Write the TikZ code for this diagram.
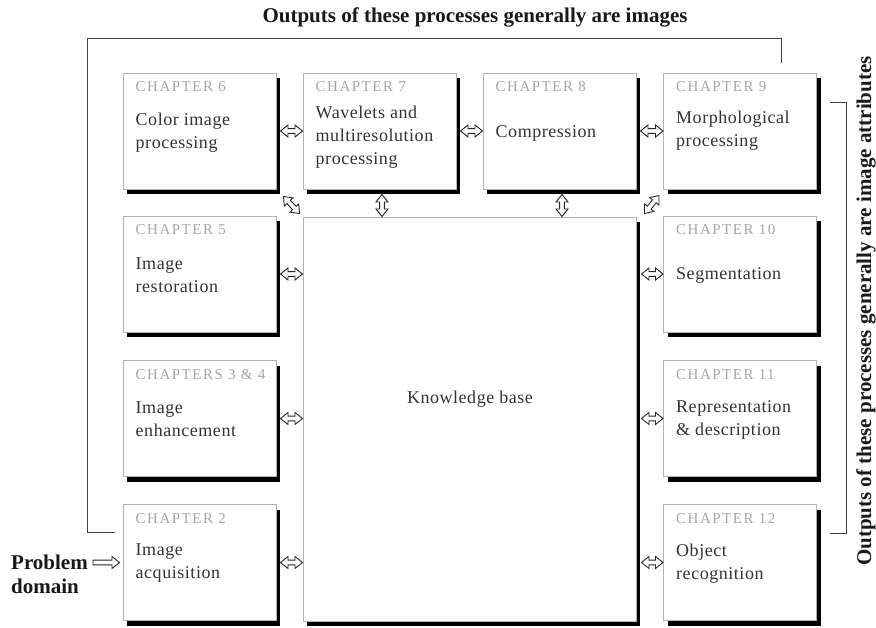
\documentclass[tikz,border=0pt]{standalone}
\usepackage{fontspec}
\setmainfont{Liberation Serif}
\newfontfamily\labfont[LetterSpace=10]{Liberation Serif}
\newfontfamily\bodyfont[LetterSpace=3]{Liberation Serif}
\usetikzlibrary{shadows,calc}
\def\ahl{7.5pt}
\def\ahw{6pt}
\def\asw{2.4pt}
\begin{document}
\begin{tikzpicture}[x=1pt,y=-1pt,
  chbox/.style={draw=gray!60, line width=1pt, fill=white, minimum width=153pt, minimum height=116pt, inner sep=0pt,
    drop shadow={shadow xshift=4pt, shadow yshift=-5pt, fill=black, opacity=1}},
  kbbox/.style={chbox, minimum width=333pt, minimum height=404pt},
  labtext/.style={anchor=north west, inner sep=0pt, text=gray!70, font=\labfont\fontsize{15}{17}\selectfont},
  bodytext/.style={anchor=west, inner sep=0pt, text=black!80, align=left, font=\bodyfont\fontsize{18}{23}\selectfont},
  bigtext/.style={font=\bfseries\fontsize{21}{24}\selectfont, text=black!90, inner sep=0pt},
  dbl/.style={draw=black!85, line width=0.9pt, fill=white, line join=miter, to path={
    (\tikztostart)
    -- ($(\tikztostart)!\ahl!(\tikztotarget)!\ahw!90:(\tikztotarget)$)
    -- ($(\tikztostart)!\ahl!(\tikztotarget)!\asw!90:(\tikztotarget)$)
    -- ($(\tikztotarget)!\ahl!(\tikztostart)!\asw!-90:(\tikztostart)$)
    -- ($(\tikztotarget)!\ahl!(\tikztostart)!\ahw!-90:(\tikztostart)$)
    -- (\tikztotarget)
    -- ($(\tikztotarget)!\ahl!(\tikztostart)!\ahw!90:(\tikztostart)$)
    -- ($(\tikztotarget)!\ahl!(\tikztostart)!\asw!90:(\tikztostart)$)
    -- ($(\tikztostart)!\ahl!(\tikztotarget)!\asw!-90:(\tikztotarget)$)
    -- ($(\tikztostart)!\ahl!(\tikztotarget)!\ahw!-90:(\tikztotarget)$)
    -- cycle}},
  sgl/.style={draw=black!85, line width=0.9pt, fill=white, line join=miter, to path={
    ($(\tikztostart)!\asw!90:(\tikztotarget)$)
    -- ($(\tikztotarget)!\ahl!(\tikztostart)!\asw!-90:(\tikztostart)$)
    -- ($(\tikztotarget)!\ahl!(\tikztostart)!\ahw!-90:(\tikztostart)$)
    -- (\tikztotarget)
    -- ($(\tikztotarget)!\ahl!(\tikztostart)!\ahw!90:(\tikztostart)$)
    -- ($(\tikztotarget)!\ahl!(\tikztostart)!\asw!90:(\tikztostart)$)
    -- ($(\tikztostart)!\asw!-90:(\tikztotarget)$)
    -- cycle}},
  fbline/.style={draw=black!75, line width=1pt}
]
\useasboundingbox (0,0) rectangle (876,627);

% boxes
\node[chbox] (c6) at (199.5,131) {};
\node[chbox] (c7) at (379.5,131) {};
\node[chbox] (c8) at (559.5,131) {};
\node[chbox] (c9) at (740,131) {};
\node[chbox] (c5) at (199.5,274) {};
\node[chbox] (c34) at (199.5,418.5) {};
\node[chbox] (c2) at (199.5,562.5) {};
\node[chbox] (c10) at (740,274) {};
\node[chbox] (c11) at (740,418.5) {};
\node[chbox] (c12) at (740,562.5) {};
\node[kbbox] (kb) at (469.5,419) {};

% labels
\node[labtext] (l6) at ($(c6.north west)+(13,9)$) {CHAPTER 6};
\node[labtext] (l7) at ($(c7.north west)+(13,9)$) {CHAPTER 7};
\node[labtext] (l8) at ($(c8.north west)+(13,9)$) {CHAPTER 8};
\node[labtext] (l9) at ($(c9.north west)+(13,9)$) {CHAPTER 9};
\node[labtext] (l5) at ($(c5.north west)+(13,9)$) {CHAPTER 5};
\node[labtext] (l34) at ($(c34.north west)+(13,9)$) {CHAPTERS 3 \& 4};
\node[labtext] (l2) at ($(c2.north west)+(13,9)$) {CHAPTER 2};
\node[labtext] (l10) at ($(c10.north west)+(13,9)$) {CHAPTER 10};
\node[labtext] (l11) at ($(c11.north west)+(13,9)$) {CHAPTER 11};
\node[labtext] (l12) at ($(c12.north west)+(13,9)$) {CHAPTER 12};

% body texts
\node[bodytext] (t6) at ($(c6.west)+(13,2)$) {Color image\\processing};
\node[bodytext] (t7) at ($(c7.west)+(13,6)$) {Wavelets and\\multiresolution\\processing};
\node[bodytext] (t8) at ($(c8.west)+(13,2)$) {Compression};
\node[bodytext] (t9) at ($(c9.west)+(13,0)$) {Morphological\\processing};
\node[bodytext] (t5) at ($(c5.west)+(13,1)$) {Image\\restoration};
\node[bodytext] (t34) at ($(c34.west)+(13,1)$) {Image\\enhancement};
\node[bodytext] (t2) at ($(c2.west)+(13,1)$) {Image\\acquisition};
\node[bodytext] (t10) at ($(c10.west)+(13,1)$) {Segmentation};
\node[bodytext] (t11) at ($(c11.west)+(13,1)$) {Representation\\\&~description};
\node[bodytext] (t12) at ($(c12.west)+(13,1)$) {Object\\recognition};
\node[font=\bodyfont\fontsize{18}{23}\selectfont, text=black!80, inner sep=0pt] (kbt) at (470,399) {Knowledge base};

% outer texts
\node[bigtext] (top) at (475,17) {Outputs of these processes generally are images};
\node[bigtext, rotate=90] (right) at (866,311) {Outputs of these processes generally are image attributes};
\node[bigtext, anchor=west, align=left] (pd) at (11,574) {Problem\\domain};

% arrows between boxes
\draw[dbl] ([xshift=4pt]c6.east) to (c7.west);
\draw[dbl] ([xshift=4pt]c7.east) to (c8.west);
\draw[dbl] ([xshift=4pt]c8.east) to (c9.west);
\draw[dbl] ([shift={(2.5,5)}]c7.south) to ([xshift=2.5pt]c7.south |- kb.north);
\draw[dbl] ([shift={(2.5,5)}]c8.south) to ([xshift=2.5pt]c8.south |- kb.north);
\draw[dbl] ([shift={(7,7)}]c6.south east) to ([shift={(-3,-3)}]kb.north west);
\draw[dbl] ([shift={(8,-3)}]kb.north east) to ([shift={(-4,6)}]c9.south west);
\draw[dbl] ([xshift=4pt]c5.east) to (c5.east -| kb.west);
\draw[dbl] ([xshift=4pt]c34.east) to (c34.east -| kb.west);
\draw[dbl] ([xshift=4pt]c2.east) to (c2.east -| kb.west);
\draw[dbl] ([xshift=5pt]c10.west -| kb.east) to (c10.west);
\draw[dbl] ([xshift=5pt]c11.west -| kb.east) to (c11.west);
\draw[dbl] ([xshift=5pt]c12.west -| kb.east) to (c12.west);
\draw[sgl] ([xshift=5pt]pd.east |- c2.west) to ([xshift=-3pt]c2.west);

% feedback lines
\coordinate (fa) at ($(c2.west)+(-8,-30.5)$);
\coordinate (fb) at ($(c9.north)+(41,-10)$);
\draw[fbline] (fa) -- (87,532) -- (87,38) -- (781,38) -- (fb);
\coordinate (ra) at ($(c9.east)+(13,-29)$);
\coordinate (rb) at ($(c12.east)+(13,-29.5)$);
\draw[fbline] (ra) -- (846,102) -- (846,533) -- (rb);
\end{tikzpicture}
\end{document}
